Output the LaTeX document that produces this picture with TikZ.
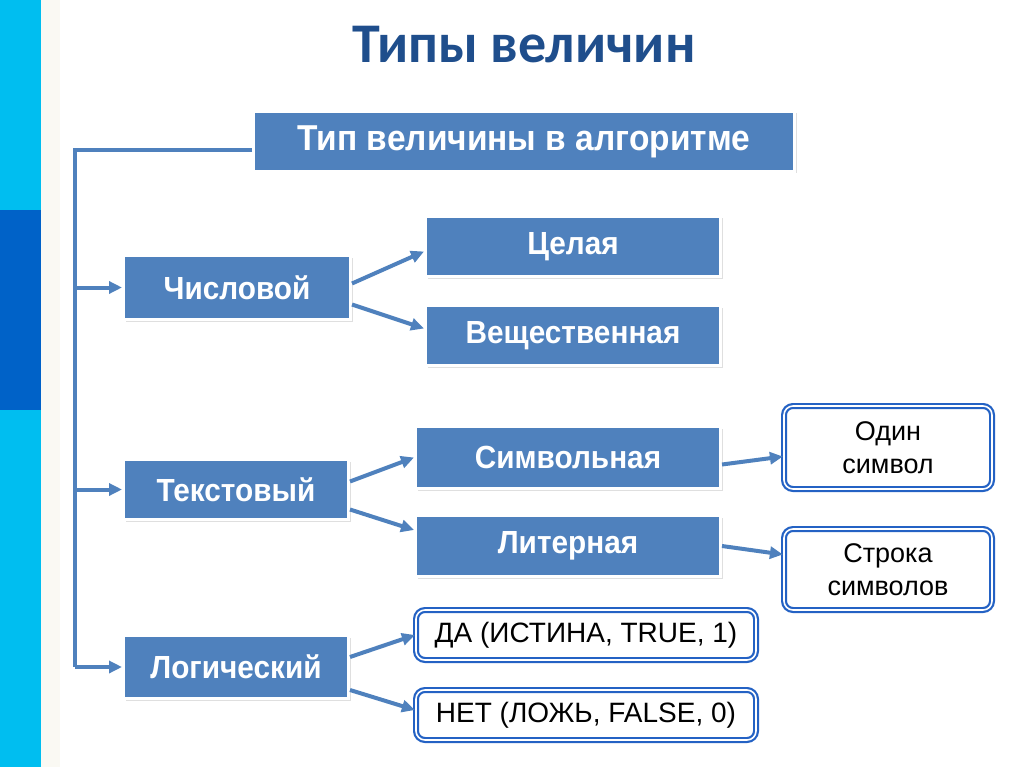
\documentclass[tikz,border=0pt]{standalone}
\usepackage{fontspec}
\setmainfont{Liberation Sans}
\newfontfamily\titlefont{Carlito}
\newfontfamily\boxfont[FakeStretch=0.93]{Liberation Sans}
\usepackage{xcolor}
\definecolor{boxblue}{RGB}{79,129,189}
\definecolor{edgeblue}{RGB}{36,98,196}
\definecolor{titleblue}{RGB}{31,78,140}
\definecolor{barcyan}{RGB}{0,190,240}
\definecolor{bardark}{RGB}{0,98,200}
\definecolor{stripe}{RGB}{250,249,243}
\usetikzlibrary{arrows.meta,shadows}

\tikzset{
  typebox/.style={fill=boxblue, draw=white, line width=3pt, text=white,
    font=\boxfont\bfseries\fontsize{32}{34}\selectfont, inner sep=0pt,
    drop shadow={shadow xshift=2pt, shadow yshift=-2pt, opacity=0.25}},
  valbox/.style={draw=edgeblue, double=white, double distance=1.6pt,
    line width=2.2pt, rounded corners=9pt, fill=white, align=center,
    font=\fontsize{27}{33}\selectfont, inner sep=0pt},
  link/.style={boxblue, line width=4pt, -{Triangle[length=13pt,width=12pt]}},
}

\begin{document}
\begin{tikzpicture}[x=1pt, y=-1pt]
\useasboundingbox (0,0) rectangle (1024,767);
% side bar
\fill[barcyan] (0,0) rectangle (41,210);
\fill[bardark] (0,210) rectangle (41,410);
\fill[barcyan] (0,410) rectangle (41,767);
\fill[stripe] (41,0) rectangle (60,767);

\node[text=titleblue, font=\titlefont\bfseries\fontsize{56}{60}\selectfont] (title) at (524,45) {Типы величин};

% boxes
\node[typebox, minimum width=541pt, minimum height=60pt, font=\boxfont\bfseries\fontsize{36}{38}\selectfont] (alg) at (524,141.5) {Тип величины в алгоритме};
\node[typebox, minimum width=227pt, minimum height=64pt] (num) at (237,287.5) {Числовой};
\node[typebox, minimum width=295pt, minimum height=60pt] (cel) at (573,246.5) {Целая};
\node[typebox, minimum width=295pt, minimum height=60pt] (vesh) at (573,335.5) {Вещественная};
\node[typebox, minimum width=225pt, minimum height=60pt] (txt) at (236,489.5) {Текстовый};
\node[typebox, minimum width=305pt, minimum height=62pt] (simv) at (568,457.5) {Символьная};
\node[typebox, minimum width=305pt, minimum height=61pt] (liter) at (568,546) {Литерная};
\node[typebox, minimum width=225pt, minimum height=63pt] (logic) at (236,667) {Логический};
\node[valbox, minimum width=208pt, minimum height=83pt] (one) at (888,447.5) {Один\\символ};
\node[valbox, minimum width=208pt, minimum height=81pt] (str) at (888,569.5) {Строка\\символов};
\node[valbox, minimum width=340pt, minimum height=50pt, font=\fontsize{28}{33}\selectfont] (yes) at (586,635) {ДА (ИСТИНА, TRUE, 1)};
\node[valbox, minimum width=340pt, minimum height=50pt, font=\fontsize{28}{33}\selectfont] (no) at (586,715) {НЕТ (ЛОЖЬ, FALSE, 0)};

% trunk
\coordinate (trunk) at (75,150);
\draw[boxblue, line width=3.5pt] (alg.west |- trunk) -- (trunk) -- (trunk |- logic.west);
\draw[link] (trunk |- num.west) -- (num.west);
\draw[link] (trunk |- txt.west) -- (txt.west);
\draw[link] (trunk |- logic.west) -- (logic.west);

% branches
\draw[link] ([yshift=4pt]num.east) -- ([yshift=-5pt]cel.west);
\draw[link] ([yshift=-17pt]num.east) -- ([yshift=7pt]vesh.west);
\draw[link] ([yshift=8pt]txt.east) -- ([yshift=0pt]simv.west);
\draw[link] ([yshift=-20pt]txt.east) -- ([yshift=16pt]liter.west);
\draw[link] ([yshift=-7pt]simv.east) -- ([yshift=-9pt]one.west);
\draw[link] ([yshift=0pt]liter.east) -- ([yshift=15pt]str.west);
\draw[link] ([yshift=10pt]logic.east) -- (yes.west);
\draw[link] ([yshift=-23pt]logic.east) -- ([yshift=5pt]no.west);
\end{tikzpicture}
\end{document}
